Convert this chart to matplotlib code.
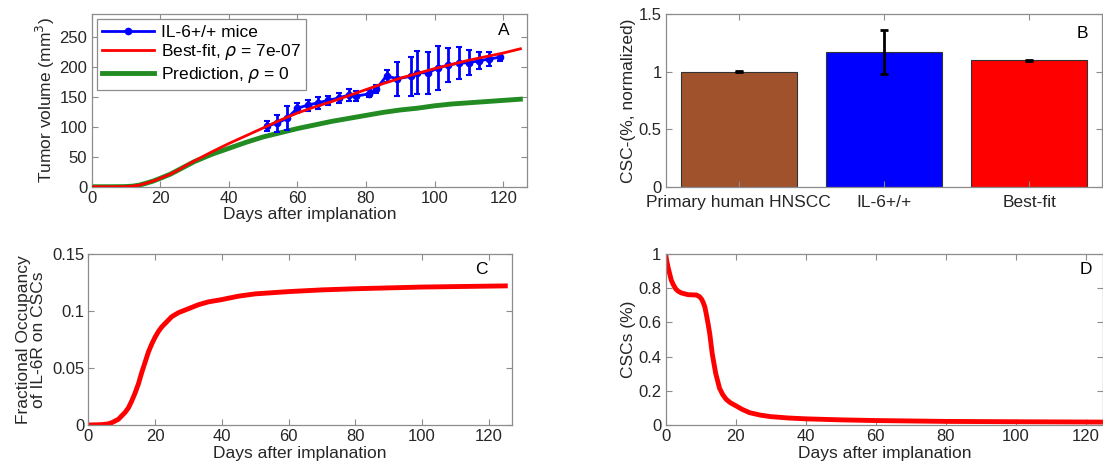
import numpy as np
import matplotlib
matplotlib.use("Agg")
import matplotlib.pyplot as plt
from matplotlib.lines import Line2D

plt.rcParams['font.family'] = ['Liberation Sans', 'DejaVu Sans']
plt.rcParams['mathtext.fontset'] = 'dejavusans'

# panel A: measured tumour volume (IL-6+/+ mice)
obs_days = [51, 54, 57, 60, 63, 66, 69, 72, 75, 77, 81, 83, 86, 89, 93, 95, 98, 101, 104, 107, 110, 113, 116, 119]
obs_vol = [101, 106, 114, 131, 136, 140, 144, 148, 153, 151, 155, 163, 185, 180, 184, 190, 190, 198, 203, 206, 207, 210, 213, 216]
obs_err = [8, 14, 20, 8, 9, 10, 8, 9, 10, 8, 6, 6, 10, 28, 33, 36, 35, 36, 28, 27, 21, 14, 12, 6]

# panel A: model curves
fit_days = [0, 5, 8, 10, 12, 14, 16, 18, 20, 23, 25, 28, 30, 35, 40, 45, 50, 55, 60, 65, 70, 75, 80, 85, 90, 95, 100, 105, 110, 115, 120, 125]
fit_vol = [0, 0, 0.1, 0.3, 1, 2.8, 6, 9.5, 14, 21, 27, 37, 43, 58, 72, 85, 98, 111, 123, 133, 142, 152, 162, 172, 181, 189, 197, 204, 211, 217, 223, 230]
pred_vol = [0, 0, 0.1, 0.3, 1, 2.8, 6, 9.5, 14, 21, 27, 36, 42, 54, 64, 74, 83, 90, 97, 103, 109, 114, 119, 124, 128, 131, 135, 138, 140, 142, 144, 146]

# panel B
groups = ['Primary human HNSCC', 'IL-6+/+', 'Best-fit']
csc_norm = [1.0, 1.17, 1.10]
csc_err = [0.005, 0.19, 0.005]
bar_colors = ['#a0522d', '#0000ff', '#ff0000']

# panel C: fractional occupancy of IL-6R
occ_days = [0, 4, 6, 7, 8, 9, 10, 11, 12, 13, 14, 15, 16, 17, 18, 19, 20, 21, 22, 23, 24, 25, 27, 30, 33, 36, 40, 45, 50, 60, 70, 80, 100, 125]
occ_val = [0, 0.0003, 0.001, 0.002, 0.0035, 0.005, 0.008, 0.011, 0.015, 0.021, 0.028, 0.036, 0.046, 0.055, 0.064, 0.071, 0.077, 0.082, 0.086, 0.089, 0.092, 0.095, 0.0985, 0.102, 0.1055, 0.108, 0.110, 0.113, 0.115, 0.117, 0.1185, 0.1195, 0.121, 0.122]

# panel D: CSC fraction
csc_days = [0, 0.3, 0.7, 1.2, 1.6, 2.2, 2.9, 3.6, 4.5, 6.4, 8.8, 9.7, 10.2, 10.7, 11.2, 11.6, 12.1, 12.6, 13.3, 14.3, 15.4, 16.3, 17.3, 18.5, 20, 22, 24, 27, 30, 35, 40, 50, 60, 80, 100, 125]
csc_val = [1.0, 0.96, 0.921, 0.88, 0.847, 0.82, 0.795, 0.782, 0.772, 0.762, 0.760, 0.750, 0.738, 0.718, 0.69, 0.650, 0.595, 0.534, 0.418, 0.302, 0.215, 0.178, 0.15, 0.13, 0.113, 0.09, 0.072, 0.058, 0.049, 0.041, 0.036, 0.030, 0.026, 0.021, 0.019, 0.017]

GREY = '#8c8c8c'
TXT = '#262626'
TICK_FS = 12
LABEL_FS = 12.5


def style(ax):
    for s in ax.spines.values():
        s.set_color(GREY)
        s.set_linewidth(0.9)
    ax.tick_params(direction='in', top=True, right=True, color=GREY, labelcolor=TXT,
                   labelsize=TICK_FS, length=4, pad=3)


fig = plt.figure(figsize=(11.03, 4.68), dpi=100)
axA = fig.add_axes([0.0830, 0.601, 0.3950, 0.369])
axB = fig.add_axes([0.6038, 0.601, 0.3953, 0.369])
axC = fig.add_axes([0.0801, 0.0919, 0.3841, 0.3654])
axD = fig.add_axes([0.6035, 0.0919, 0.3965, 0.3654])

# A
axA.errorbar(obs_days, obs_vol, yerr=obs_err, color='#0000ff', marker='o', ms=4.5, lw=2,
             elinewidth=2, capsize=2.5, capthick=1.5, zorder=3)
h_fit, = axA.plot(fit_days, fit_vol, color='#ff0000', lw=2, label=r'Best-fit, $\rho$ = 7e-07', zorder=4)
h_pred, = axA.plot(fit_days, pred_vol, color='#228b22', lw=3.5, label=r'Prediction, $\rho$ = 0', zorder=2)
h_obs = Line2D([], [], color='#0000ff', marker='o', ms=4.5, lw=2, label='IL-6+/+ mice')
axA.set_xlim(0, 127)
axA.set_ylim(0, 288)
axA.set_xticks(range(0, 121, 20))
axA.set_yticks(range(0, 251, 50))
axA.set_xlabel('Days after implanation', fontsize=LABEL_FS, color=TXT, labelpad=1)
axA.set_ylabel('Tumor volume (mm$^3$)', fontsize=LABEL_FS, color=TXT, labelpad=2)
leg = axA.legend(handles=[h_obs, h_fit, h_pred], loc='upper left', fontsize=12.5, frameon=True,
                 fancybox=False, borderpad=0.3, labelspacing=0.15, handlelength=3,
                 handletextpad=0.4, borderaxespad=0.3)
leg.get_frame().set_edgecolor(GREY)
leg.get_frame().set_linewidth(0.9)
leg.get_frame().set_alpha(1)
axA.text(0.947, 0.907, 'A', transform=axA.transAxes, ha='center', va='center', fontsize=12.5)
style(axA)

# B
xb = np.arange(1, len(groups) + 1)
axB.bar(xb, csc_norm, width=0.8, color=bar_colors, edgecolor='#333333', linewidth=0.8)
axB.errorbar(xb, csc_norm, yerr=csc_err, fmt='none', ecolor='black', elinewidth=2,
             capsize=3, capthick=2)
axB.set_xlim(0.5, 3.5)
axB.set_ylim(0, 1.5)
axB.set_xticks(xb)
axB.set_xticklabels(groups)
axB.set_yticks([0, 0.5, 1, 1.5])
axB.set_yticklabels(['0', '0.5', '1', '1.5'])
axB.set_ylabel('CSC-(%, normalized)', fontsize=LABEL_FS, color=TXT, labelpad=2)
axB.text(0.954, 0.89, 'B', transform=axB.transAxes, ha='center', va='center', fontsize=12.5)
style(axB)
axB.tick_params(axis='x', labelsize=12.5, pad=6)

# C
axC.plot(occ_days, occ_val, color='#ff0000', lw=3.5)
axC.set_xlim(0, 127)
axC.set_ylim(0, 0.15)
axC.set_xticks(range(0, 121, 20))
axC.set_yticks([0, 0.05, 0.1, 0.15])
axC.set_yticklabels(['0', '0.05', '0.1', '0.15'])
axC.set_xlabel('Days after implanation', fontsize=LABEL_FS, color=TXT, labelpad=1)
axC.set_ylabel('Fractional Occupancy\nof IL-6R on CSCs', fontsize=LABEL_FS, color=TXT, labelpad=4,
               linespacing=1.0)
axC.text(0.927, 0.912, 'C', transform=axC.transAxes, ha='center', va='center', fontsize=12.5)
style(axC)

# D
axD.plot(csc_days, csc_val, color='#ff0000', lw=3.5)
axD.set_xlim(0, 125)
axD.set_ylim(0, 1)
axD.set_xticks(range(0, 121, 20))
axD.set_yticks([0, 0.2, 0.4, 0.6, 0.8, 1])
axD.set_yticklabels(['0', '0.2', '0.4', '0.6', '0.8', '1'])
axD.set_xlabel('Days after implanation', fontsize=LABEL_FS, color=TXT, labelpad=1)
axD.set_ylabel('CSCs (%)', fontsize=LABEL_FS, color=TXT, labelpad=2)
axD.text(0.961, 0.911, 'D', transform=axD.transAxes, ha='center', va='center', fontsize=12.5)
style(axD)

fig.savefig('out.png', dpi=100)
